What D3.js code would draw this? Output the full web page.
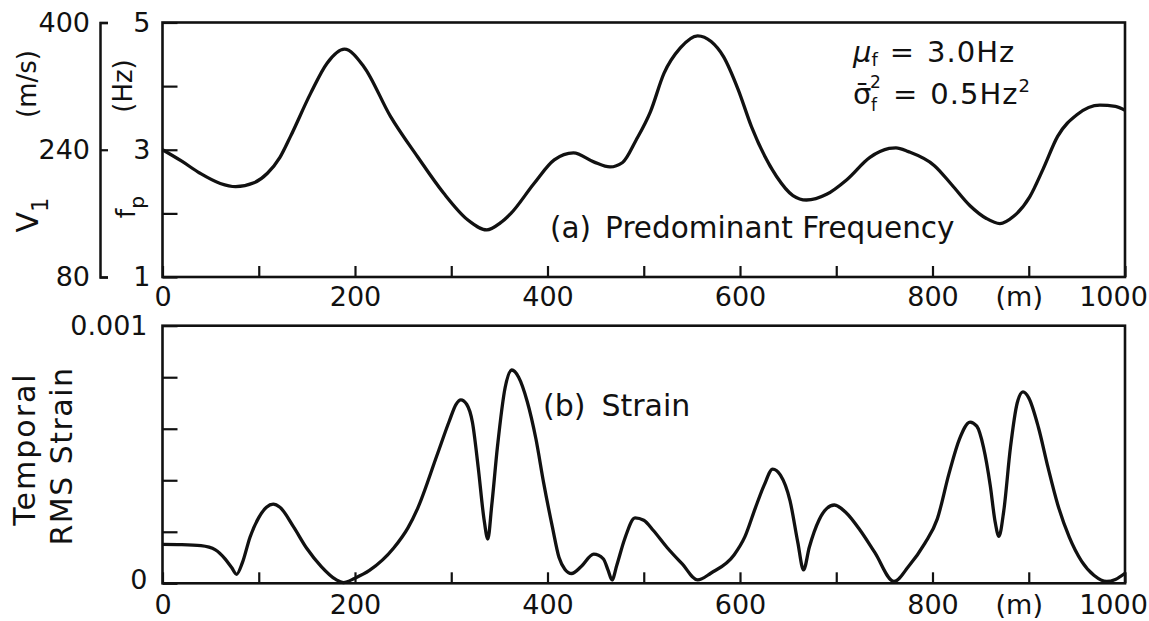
<!DOCTYPE html>
<html>
<head>
<meta charset="utf-8">
<script src="https://cdn.jsdelivr.net/npm/d3@7"></script>
<style>
  body { margin: 0; background: #fff; }
  svg text { font-family: "DejaVu Sans", sans-serif; fill: #111; }
</style>
</head>
<body>
<div id="chart"></div>
<script>
// (a) predominant frequency along the line, Hz
const freqDist = [0, 20, 39, 60, 76, 95, 109, 122, 133, 154, 171, 189, 209, 237, 265, 292, 317, 337, 351, 362,
  386, 407, 427, 448, 465, 478, 492, 507, 521, 538, 556, 570, 583, 598, 612, 638, 655, 669, 690, 711,
  735, 755, 762, 775, 802, 820, 839, 856, 870, 884, 901, 915, 930, 950, 974, 990, 1000];
const freqValues = [3.0, 2.82, 2.63, 2.47, 2.42, 2.48, 2.63, 2.88, 3.21, 3.89, 4.36, 4.58, 4.31, 3.52, 2.89, 2.32, 1.90, 1.74, 1.85, 2.0,
  2.47, 2.84, 2.95, 2.81, 2.73, 2.8, 3.15, 3.6, 4.2, 4.6, 4.79, 4.7, 4.46, 3.95, 3.36, 2.58, 2.28, 2.21, 2.3, 2.53,
  2.88, 3.02, 3.03, 2.97, 2.75, 2.45, 2.12, 1.92, 1.84, 1.95, 2.26, 2.7, 3.21, 3.55, 3.70, 3.68, 3.62];

// (b) temporal RMS strain
const strainDist = [0, 20, 40, 55, 65, 72, 77, 83, 91, 100, 108, 115, 122, 136, 150, 165, 180, 188, 200, 215,
  240, 255, 265, 285, 298, 305, 310, 316, 322, 328, 334, 338, 342, 348, 356, 363, 370, 379, 388, 396,
  405, 412, 418, 425, 435, 448, 458, 463, 467, 472, 480, 491, 500, 510, 524, 540, 556, 570, 594, 605,
  616, 625, 634, 642, 652, 660, 666, 672, 682, 690, 698, 710, 725, 740, 760, 775, 792, 805, 817, 828,
  839, 846, 853, 860, 865, 869, 874, 881, 888, 894, 900, 910, 920, 930, 942, 955, 968, 981, 990, 1000];
const strainValues = [1.51e-4, 1.50e-4, 1.46e-4, 1.30e-4, 0.95e-4, 0.60e-4, 0.35e-4, 0.80e-4, 1.80e-4, 2.55e-4,
  2.95e-4, 3.07e-4, 2.95e-4, 2.20e-4, 1.35e-4, 0.65e-4, 0.15e-4, 0.03e-4, 0.20e-4, 0.50e-4,
  1.36e-4, 2.15e-4, 2.90e-4, 4.95e-4, 6.30e-4, 6.95e-4, 7.12e-4, 6.95e-4, 6.25e-4, 4.5e-4,
  2.5e-4, 1.72e-4, 3.0e-4, 5.3e-4, 7.6e-4, 8.28e-4, 8.0e-4, 7.05e-4, 5.6e-4, 3.9e-4,
  2.2e-4, 1.0e-4, 0.55e-4, 0.38e-4, 0.65e-4, 1.13e-4, 0.95e-4, 0.5e-4, 0.13e-4, 0.7e-4,
  1.7e-4, 2.54e-4, 2.45e-4, 2.05e-4, 1.4e-4, 0.75e-4, 0.13e-4, 0.4e-4, 1.11e-4, 1.8e-4,
  2.93e-4, 3.8e-4, 4.43e-4, 4.2e-4, 3.2e-4, 1.6e-4, 0.52e-4, 1.4e-4, 2.45e-4, 2.9e-4,
  3.04e-4, 2.75e-4, 2.05e-4, 1.2e-4, 0.07e-4, 0.65e-4, 1.55e-4, 2.5e-4, 4.24e-4, 5.6e-4,
  6.26e-4, 6.1e-4, 5.28e-4, 3.8e-4, 2.4e-4, 1.82e-4, 2.8e-4, 5.28e-4, 7.0e-4, 7.43e-4,
  7.2e-4, 6.06e-4, 4.5e-4, 3.07e-4, 1.8e-4, 0.85e-4, 0.3e-4, 0.07e-4, 0.15e-4, 0.39e-4];

// ticks
const xTickValues = [0, 100, 200, 300, 400, 500, 600, 700, 800, 900, 1000];
const xTickLabels = ["0", "", "200", "", "400", "", "600", "", "800", "(m)", "1000"];
const fpTickValues = [1, 2, 3, 4, 5];
const fpTickLabels = ["1", "", "3", "", "5"];
const v1TickValues = [80, 240, 400];
const strainTickValues = [0, 0.0002, 0.0004, 0.0006, 0.0008, 0.001];
const strainTickLabels = ["0", "", "", "", "", "0.001"];

const svg = d3.select("#chart").append("svg")
  .attr("width", 1149)
  .attr("height", 621);

const left = 162.5, right = 1125;
const x = d3.scaleLinear().domain([0, 1000]).range([left, right]);
const yF = d3.scaleLinear().domain([1, 5]).range([277, 22.5]);
const yV = d3.scaleLinear().domain([80, 400]).range([277, 22.5]);
const yS = d3.scaleLinear().domain([0, 0.001]).range([583.3, 325.7]);

function styleAxis(g, size) {
  g.attr("font-family", null).attr("font-size", null);
  g.selectAll("text").style("font-size", size + "px").attr("fill", "#111");
  g.selectAll("line").attr("stroke", "#111").attr("stroke-width", 2.2);
  g.selectAll("path").attr("stroke", "#111").attr("stroke-width", 2.5);
}

function xAxis(yPos, pad) {
  const g = svg.append("g")
    .attr("transform", "translate(0," + yPos + ")")
    .call(d3.axisBottom(x).tickValues(xTickValues)
      .tickFormat((d, i) => xTickLabels[i])
      .tickSize(-11).tickSizeOuter(0).tickPadding(pad));
  g.select(".domain").remove();
  styleAxis(g, 27);
  // the last labels sit a little to the left in the original
  g.selectAll(".tick text").attr("dx", d => d === 1000 ? -12 : d === 900 ? -10 : 0);
  return g;
}

function frame(yTop, yBottom) {
  svg.append("rect")
    .attr("x", left).attr("y", yTop)
    .attr("width", right - left).attr("height", yBottom - yTop)
    .attr("fill", "none").attr("stroke", "#111").attr("stroke-width", 2.6);
}

// ---- panel (a)
xAxis(277, 10);

const fpAxis = svg.append("g")
  .attr("transform", "translate(" + left + ",0)")
  .call(d3.axisLeft(yF).tickValues(fpTickValues)
    .tickFormat((d, i) => fpTickLabels[i])
    .tickSize(-15).tickSizeOuter(0).tickPadding(12));
fpAxis.select(".domain").remove();
styleAxis(fpAxis, 27);

const v1Axis = svg.append("g")
  .attr("transform", "translate(100,0)")
  .call(d3.axisLeft(yV).tickValues(v1TickValues)
    .tickSize(-8).tickSizeOuter(-8).tickPadding(10));
styleAxis(v1Axis, 27);

frame(22.5, 277);

svg.append("path")
  .datum(freqDist.map((d, i) => [d, freqValues[i]]))
  .attr("fill", "none").attr("stroke", "#111").attr("stroke-width", 3.3)
  .attr("stroke-linejoin", "round")
  .attr("d", d3.line().x(d => x(d[0])).y(d => yF(d[1])).curve(d3.curveMonotoneX));

function vLabel(cx, cy, size, parts, spacing) {
  const t = svg.append("text")
    .attr("transform", "translate(" + cx + "," + cy + ") rotate(-90)")
    .attr("text-anchor", "middle").attr("dominant-baseline", "central")
    .style("font-size", size + "px")
    .style("letter-spacing", (spacing || 0) + "px");
  parts.forEach(p => {
    const s = t.append("tspan").text(p.t);
    if (p.sub) s.attr("baseline-shift", "sub").style("font-size", (size * 0.75) + "px");
  });
  return t;
}

vLabel(27, 84, 26, [{ t: "(m/s)" }]);
vLabel(27, 215, 30, [{ t: "V" }, { t: "1", sub: true }]);
vLabel(123, 86, 26, [{ t: "(Hz)" }]);
vLabel(125, 207, 27, [{ t: "f" }, { t: "p", sub: true }]);

svg.append("text").attr("x", 550).attr("y", 238).style("font-size", "29.5px")
  .text("(a)")
  .append("tspan").attr("dx", 14).text("Predominant Frequency");

// parameters
const mu = svg.append("text").attr("x", 853).attr("y", 62).style("font-size", "29px");
mu.append("tspan").style("font-style", "italic").text("μ");
mu.append("tspan").attr("dy", 4).style("font-size", "18px").text("f");
mu.append("tspan").attr("dy", -4).attr("dx", 12).text("=");
mu.append("tspan").attr("dx", 13).style("letter-spacing", "1px").text("3.0Hz");

// σ̄ with subscript f and superscript 2 written as separate texts so they stack
const sgX = 853, sgY = 104;
svg.append("text").attr("x", sgX).attr("y", sgY).style("font-size", "29px").text("σ\u0304");
svg.append("text").attr("x", sgX + 18).attr("y", sgY + 7).style("font-size", "17px").text("f");
svg.append("text").attr("x", sgX + 17).attr("y", sgY - 16).style("font-size", "17px").text("2");
const sg = svg.append("text").attr("x", sgX + 40).attr("y", sgY).style("font-size", "29px");
sg.append("tspan").text("=");
sg.append("tspan").attr("dx", 13).style("letter-spacing", "1px").text("0.5Hz");
sg.append("tspan").attr("dy", -12).style("font-size", "18px").text("2");

// ---- panel (b)
xAxis(583.3, 12);

const sAxis = svg.append("g")
  .attr("transform", "translate(" + left + ",0)")
  .call(d3.axisLeft(yS).tickValues(strainTickValues)
    .tickFormat((d, i) => strainTickLabels[i])
    .tickSize(-15).tickSizeOuter(0).tickPadding(15));
sAxis.select(".domain").remove();
styleAxis(sAxis, 27);
sAxis.selectAll(".tick text").attr("dy", d => d === 0 ? "0.2em" : "0.32em");

frame(325.7, 583.3);

svg.append("path")
  .datum(strainDist.map((d, i) => [d, strainValues[i]]))
  .attr("fill", "none").attr("stroke", "#111").attr("stroke-width", 3.3)
  .attr("stroke-linejoin", "round")
  .attr("d", d3.line().x(d => x(d[0])).y(d => yS(d[1])).curve(d3.curveMonotoneX));

vLabel(24, 449, 30, [{ t: "Temporal" }], 2);
vLabel(61, 456, 30, [{ t: "RMS Strain" }], 1.5);

svg.append("text").attr("x", 543).attr("y", 416).style("font-size", "30px")
  .text("(b)")
  .append("tspan").attr("dx", 16).text("Strain");
</script>
</body>
</html>
